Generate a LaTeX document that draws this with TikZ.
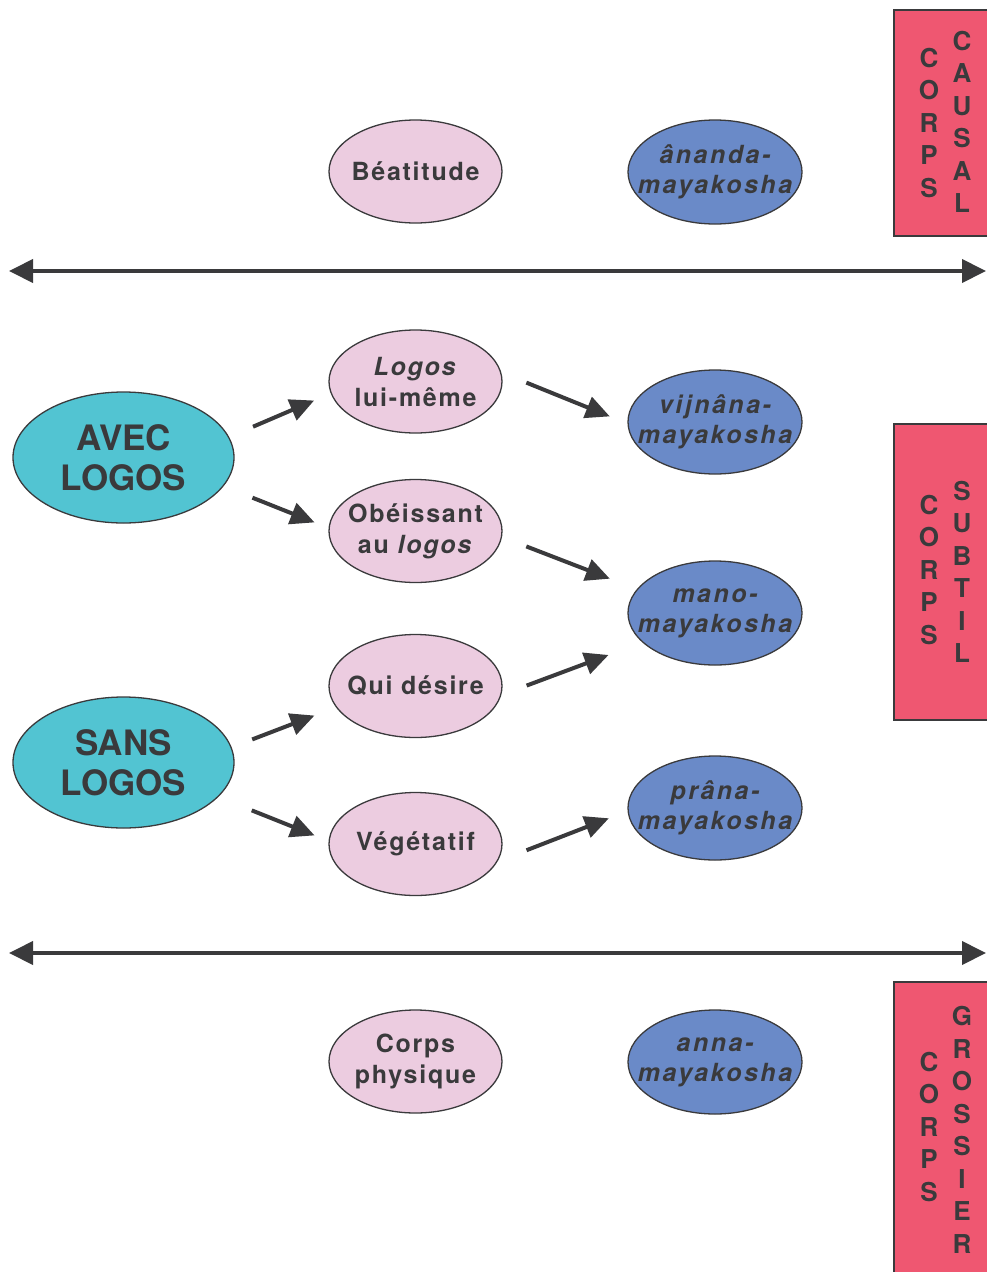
\documentclass[tikz,border=0pt]{standalone}
\usepackage{fontspec}
\setmainfont{TeX Gyre Heros}
\usepackage{xcolor}
\usetikzlibrary{arrows.meta,shapes.geometric}
\definecolor{ink}{HTML}{3A3A3C}
\definecolor{rose}{HTML}{ECCCE0}
\definecolor{kosha}{HTML}{6A8AC8}
\definecolor{logoscol}{HTML}{52C4D2}
\definecolor{corpscol}{HTML}{EF5771}

\begin{document}
\begin{tikzpicture}[x=1pt,y=-1pt,
    pale/.style={ellipse,draw=ink,line width=1.3pt,fill=rose,minimum width=173pt,minimum height=103pt,inner xsep=-40pt,inner ysep=0pt,
        text=ink,align=center,font=\fontsize{25}{31}\selectfont\bfseries\addfontfeatures{LetterSpace=7}},
    sheath/.style={ellipse,draw=ink,line width=1.3pt,fill=kosha,minimum width=174pt,minimum height=104pt,inner xsep=-40pt,inner ysep=0pt,
        text=ink,align=center,font=\fontsize{25}{30}\selectfont\bfseries\itshape\addfontfeatures{LetterSpace=10}},
    big/.style={ellipse,draw=ink,line width=1.3pt,fill=logoscol,minimum width=221pt,minimum height=131pt,inner xsep=-30pt,inner ysep=0pt,
        text=ink,align=center,font=\fontsize{35}{40}\selectfont\bfseries},
    band/.style={rectangle,draw=ink,line width=2pt,fill=corpscol,anchor=north west,minimum width=110pt,inner sep=0pt},
    letters/.style={text=ink,align=center,inner sep=0pt,font=\fontsize{26}{32.5}\selectfont\bfseries},
    conn/.style={draw=ink,line width=4pt,-{Triangle[length=24pt,width=22pt]}},
    divide/.style={draw=ink,line width=4pt,{Triangle[length=24pt,width=23pt]}-{Triangle[length=24pt,width=23pt]}}]
    \useasboundingbox (0,0) rectangle (986,1272);
    % bands on the right
    \node[band,minimum height=226pt] (causal) at (893,9) {};
    \node[band,minimum height=296pt] (subtle) at (893,423) {};
    \node[band,minimum height=320pt] (gross) at (893,981) {};
    \node[letters] (corpsA) at (929,123) {C\\O\\R\\P\\S};
    \node[letters] (causalT) at (962,122) {C\\A\\U\\S\\A\\L};
    \node[letters] (corpsB) at (929,570) {C\\O\\R\\P\\S};
    \node[letters] (subtilT) at (962,572) {S\\U\\B\\T\\I\\L};
    \node[letters] (corpsC) at (929,1127) {C\\O\\R\\P\\S};
    \node[letters] (grossierT) at (962,1130) {G\\R\\O\\S\\S\\I\\E\\R};
    % separators
    \coordinate (topL) at (9,271);
    \coordinate (topR) at (986,271);
    \coordinate (botL) at (9,953);
    \coordinate (botR) at (986,953);
    \draw[divide] (topL) -- (topR);
    \draw[divide] (botL) -- (botR);
    % ellipses
    \node[pale] (beat) at (415.5,171.5) {B\'eatitude};
    \node[sheath] (ananda) at (715,172) {\^ananda-\\mayakosha};
    \node[big] (avec) at (123.5,457.5) {AVEC\\LOGOS};
    \node[big] (sans) at (123.5,762.5) {SANS\\LOGOS};
    \node[pale] (logos) at (415.5,381.5) {\textit{Logos}\\lui-m\^eme};
    \node[pale] (obeis) at (415.5,531) {Ob\'eissant\\au \textit{logos}};
    \node[pale] (qui) at (415.5,686) {Qui d\'esire};
    \node[pale] (veget) at (415.5,844) {V\'eg\'etatif};
    \node[pale] (physique) at (415.5,1061.5) {Corps\\physique};
    \node[sheath] (vijnana) at (715,422) {vijn\^ana-\\mayakosha};
    \node[sheath] (mano) at (715,613) {mano-\\mayakosha};
    \node[sheath] (prana) at (715,808) {pr\^ana-\\mayakosha};
    \node[sheath] (anna) at (715,1062) {anna-\\mayakosha};
    % arrows
    \draw[conn,shorten <=26pt,shorten >=18pt] (avec.11) -- (logos.188);
    \draw[conn,shorten <=31pt,shorten >=15pt] (avec.-16) -- (obeis.178);
    \draw[conn,shorten <=27pt,shorten >=19pt] (logos.6) -- (vijnana.181);
    \draw[conn,shorten <=26pt,shorten >=29pt] (obeis.-4) -- (mano.163);
    \draw[conn,shorten <=27pt,shorten >=36pt] (qui.-6) -- (mano.202);
    \draw[conn,shorten <=22pt,shorten >=23pt] (sans.8) -- (qui.195);
    \draw[conn,shorten <=36pt,shorten >=15pt] (sans.-20) -- (veget.178);
    \draw[conn,shorten <=31pt,shorten >=20pt] (veget.-12) -- (prana.182);
\end{tikzpicture}
\end{document}
